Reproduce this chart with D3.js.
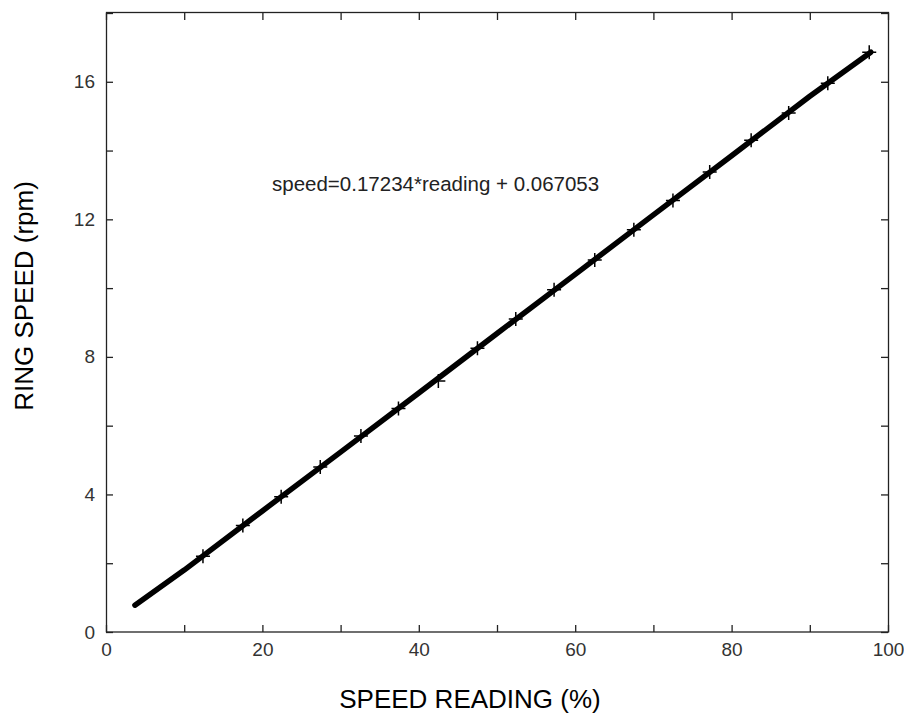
<!DOCTYPE html>
<html><head><meta charset="utf-8">
<script src="https://cdn.jsdelivr.net/npm/d3@7"></script>
<style>body{margin:0;background:#fff}svg{display:block}</style>
</head><body><svg id="c" width="904" height="718"></svg>
<script>
// Data
// thick trace
const lineReadings = [3.7, 10, 20, 30, 40, 50, 60, 70, 80, 90, 97.8];
const lineSpeeds   = [0.78, 1.80, 3.52, 5.23, 6.95, 8.68, 10.40, 12.13, 13.85, 15.58, 16.86];
// "+" markers
const markReadings = [12.4, 17.5, 22.4, 27.4, 32.6, 37.4, 42.5, 47.5, 52.4, 57.3, 62.5, 67.5, 72.5, 77.2, 82.5, 87.3, 92.3, 97.6];
const markSpeeds   = [2.20, 3.10, 3.93, 4.80, 5.70, 6.50, 7.30, 8.25, 9.10, 9.95, 10.82, 11.70, 12.55, 13.38, 14.30, 15.09, 15.96, 16.86];
const xTicks = [0,10,20,30,40,50,60,70,80,90,100];
const xLabels = [0,20,40,60,80,100];
const yTicks = [0,2,4,6,8,10,12,14,16,18];
const yLabels = [0,4,8,12,16];
const equation = "speed=0.17234*reading + 0.067053";
const xTitle = "SPEED READING (%)";
const yTitle = "RING SPEED (rpm)";

const svg = d3.select("#c");
const L = 106, R = 888, T = 13, B = 632;
const x = d3.scaleLinear().domain([0,100]).range([L,R]);
const y = d3.scaleLinear().domain([0,18]).range([B,T]);
const font = "'Liberation Sans', Arial, sans-serif";
const axisCol = "#222";

// frame
svg.append("rect").attr("x",L+0.5).attr("y",T-0.5).attr("width",R-L).attr("height",B-T+0.5)
  .attr("fill","none").attr("stroke",axisCol).attr("stroke-width",1.3);

const tl = 7;
const xb = svg.append("g").attr("transform",`translate(0,${B})`)
  .call(d3.axisBottom(x).tickValues(xTicks).tickSizeInner(-tl).tickSizeOuter(0).tickFormat(d=>xLabels.includes(d)?d:""));
const xt = svg.append("g").attr("transform",`translate(0,${T})`)
  .call(d3.axisTop(x).tickValues(xTicks).tickSizeInner(-tl).tickSizeOuter(0).tickFormat(""));
const yl = svg.append("g").attr("transform",`translate(${L},0)`)
  .call(d3.axisLeft(y).tickValues(yTicks).tickSizeInner(-tl).tickSizeOuter(0).tickFormat(d=>yLabels.includes(d)?d:""));
const yr = svg.append("g").attr("transform",`translate(${R},0)`)
  .call(d3.axisRight(y).tickValues(yTicks).tickSizeInner(-tl).tickSizeOuter(0).tickFormat(""));
[xb,xt,yl,yr].forEach(g=>{
  g.select(".domain").remove();
  g.selectAll(".tick line").attr("stroke",axisCol).attr("stroke-width",1.3);
  g.selectAll(".tick text").attr("fill","#333").style("font-family",font).style("font-size","19px");
});
xb.selectAll(".tick text").attr("dy","0.71em").attr("y",11);
yl.selectAll(".tick text").attr("x",-11);

// data trace
const pts = lineReadings.map((r,i)=>[r,lineSpeeds[i]]);
svg.append("path").datum(pts)
  .attr("d", d3.line().x(d=>x(d[0])).y(d=>y(d[1])))
  .attr("fill","none").attr("stroke","#000").attr("stroke-width",5.5).attr("stroke-linejoin","round").attr("stroke-linecap","round");

// + markers
const mpts = markReadings.map((r,i)=>[r,markSpeeds[i]]);
const s = 7;
svg.append("g").selectAll("path").data(mpts).join("path")
  .attr("d", d=>{const px=x(d[0]), py=y(d[1]); return `M${px-s},${py}H${px+s}M${px},${py-s}V${py+s}`;})
  .attr("stroke","#000").attr("stroke-width",1.5).attr("fill","none");

// equation
svg.append("text").attr("x",272).attr("y",191).text(equation)
  .attr("fill","#222").style("font-family",font).style("font-size","20.5px");

// axis titles
svg.append("text").attr("x",470).attr("y",708).attr("text-anchor","middle").text(xTitle)
  .attr("fill","#000").style("font-family",font).style("font-size","26px");
svg.append("text").attr("transform","translate(33,296) rotate(-90)").attr("text-anchor","middle").text(yTitle)
  .attr("fill","#000").style("font-family",font).style("font-size","26px");
</script></body></html>
